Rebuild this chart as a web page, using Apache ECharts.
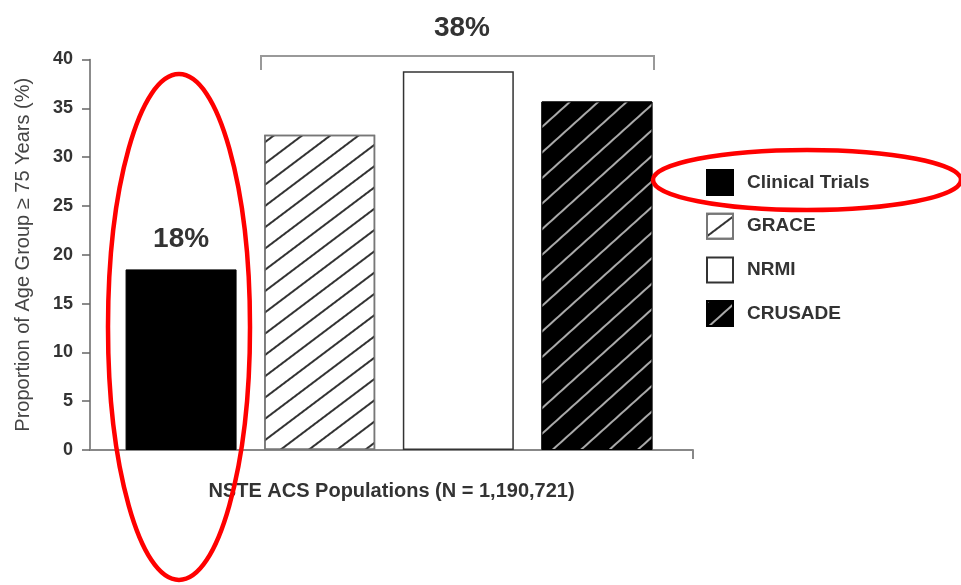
<!DOCTYPE html>
<html>
<head>
<meta charset="utf-8">
<script src="https://cdn.jsdelivr.net/npm/echarts@6/dist/echarts.min.js"></script>
<style>html,body{margin:0;padding:0;background:#fff}#c{width:961px;height:585px}</style>
</head>
<body>
<div id="c"></div>
<script>
var categories = ['Clinical Trials', 'GRACE', 'NRMI', 'CRUSADE'];
var positions = [1, 2, 3, 4];
var values = [18.5, 32.3, 38.8, 35.7];
var barLabels = ['18%', '', '', ''];
var yTicks = [0, 5, 10, 15, 20, 25, 30, 35, 40];
var groupLabel = '38%';
var xName = 'NSTE ACS Populations (N = 1,190,721)';
var yName = 'Proportion of Age Group \u2265 75 Years (%)';

var FONT = 'Liberation Sans, Arial, sans-serif';
var styles = [
  {color: '#000', borderColor: '#000', borderWidth: 1},
  {color: '#fff', borderColor: '#777', borderWidth: 1.5,
   decal: {symbol: 'rect', symbolSize: 1, dashArrayX: [1, 0], dashArrayY: [1.8, 15], rotation: -37 * Math.PI / 180, color: '#333'}},
  {color: '#fff', borderColor: '#333', borderWidth: 1.5},
  {color: '#000', borderColor: '#000', borderWidth: 1,
   decal: {symbol: 'rect', symbolSize: 1, dashArrayX: [1, 0], dashArrayY: [2, 17], rotation: -42 * Math.PI / 180, color: '#aaa'}}
];

var series = categories.map(function (name, i) {
  return {
    name: name,
    type: 'bar',
    barWidth: 111,
    barGap: '-100%',
    data: [[positions[i], values[i]]],
    itemStyle: styles[i],
    label: {
      show: barLabels[i] !== '',
      position: 'top',
      distance: 16,
      formatter: function () { return barLabels[i]; },
      fontFamily: FONT,
      fontWeight: 'bold',
      fontSize: 28,
      color: '#333'
    }
  };
});

var chart = echarts.init(document.getElementById('c'));
chart.setOption({
  animation: false,
  backgroundColor: '#fff',
  textStyle: {fontFamily: FONT},
  grid: {left: 90, right: 268, top: 59.5, bottom: 135, containLabel: false},
  xAxis: {
    type: 'value',
    min: 0.343,
    max: 4.693,
    name: xName,
    nameLocation: 'middle',
    nameGap: 31,
    nameTextStyle: {fontSize: 20, fontWeight: 'bold', color: '#333', fontFamily: FONT},
    axisLine: {show: true, lineStyle: {color: '#888', width: 2}},
    axisTick: {show: true, customValues: [4.693], length: 9, lineStyle: {color: '#888', width: 2}},
    axisLabel: {show: false},
    splitLine: {show: false}
  },
  yAxis: {
    type: 'value',
    min: 0,
    max: 40,
    interval: 5,
    name: yName,
    nameLocation: 'middle',
    nameGap: 57,
    nameTextStyle: {fontSize: 20, color: '#444', fontFamily: FONT},
    axisLine: {show: true, lineStyle: {color: '#666', width: 1.5}},
    axisTick: {show: true, length: 8, lineStyle: {color: '#666', width: 1.5}},
    axisLabel: {
      margin: 17, fontSize: 18, fontWeight: 'bold', color: '#333', fontFamily: FONT,
      customValues: yTicks
    },
    splitLine: {show: false}
  },
  legend: {
    orient: 'vertical',
    left: 706,
    top: 169,
    padding: 0,
    icon: 'rect',
    itemWidth: 26,
    itemHeight: 25,
    itemGap: 16.7,
    data: categories,
    textStyle: {
      fontSize: 19,
      fontWeight: 'bold',
      color: '#333',
      fontFamily: FONT,
      padding: [0, 0, 0, 9]
    }
  },
  series: series,
  graphic: [
    {type: 'polyline', shape: {points: [[261, 70], [261, 56], [654, 56], [654, 70]]},
     style: {stroke: '#999', lineWidth: 2, fill: null}, z: 10},
    {type: 'text', x: 462, y: 28, style: {text: groupLabel, fontFamily: FONT, fontWeight: 'bold', fontSize: 28, fill: '#333', align: 'center', verticalAlign: 'middle'}, z: 10},
    {type: 'ellipse', shape: {cx: 179, cy: 327, rx: 71, ry: 253},
     style: {stroke: '#ff0000', lineWidth: 4.5, fill: null}, z: 20},
    {type: 'ellipse', shape: {cx: 807, cy: 180, rx: 154, ry: 30},
     style: {stroke: '#ff0000', lineWidth: 4.5, fill: null}, z: 20}
  ]
});
</script>
</body>
</html>
